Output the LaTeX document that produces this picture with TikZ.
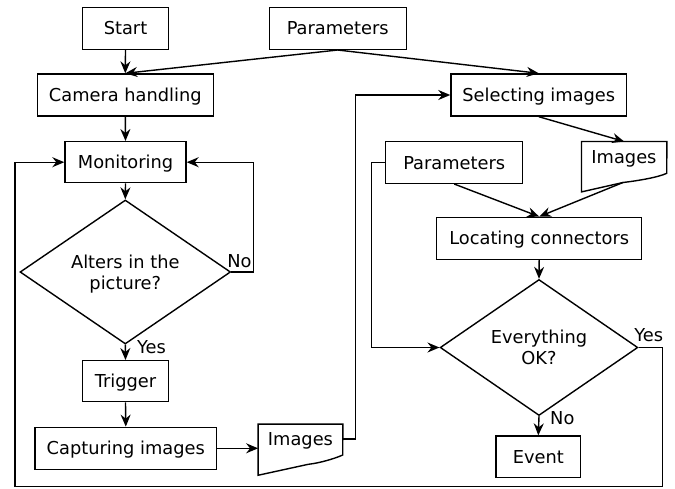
\documentclass[tikz,border=0pt]{standalone}
\usepackage{fontspec}
\setmainfont{DejaVu Sans}
\usetikzlibrary{arrows.meta,shapes.geometric,calc}
\begin{document}
\begin{tikzpicture}[x=1pt,y=-1pt,
  every node/.style={font=\fontsize{17.8}{21.3}\selectfont, inner sep=0pt},
  box/.style={draw, line width=1.4pt, text height=13pt, text depth=0pt},
  dec/.style={draw, diamond, line width=1.4pt, align=center, text depth=0pt},
  con/.style={line width=1.4pt, -{Stealth[length=12pt,width=10pt,inset=4pt]}},
  ln/.style={line width=1.4pt},
  lbl/.style={anchor=base west}
]
\useasboundingbox (0,0) rectangle (675,488);

% boxes
\node[box, minimum width=85.6pt, minimum height=42pt] (start) at (125.5,28.3) {Start};
\node[box, minimum width=137pt, minimum height=42pt] (par1) at (337.7,28.3) {Parameters};
\node[box, minimum width=176pt, minimum height=42pt] (cam) at (125.3,95) {Camera handling};
\node[box, minimum width=121pt, minimum height=41pt] (mon) at (125.5,162.2) {Monitoring};
\node[dec, minimum width=210.6pt, minimum height=144pt] (d1) at (125.3,272) {Alters in the\\picture?};
\node[box, minimum width=85.6pt, minimum height=41pt] (trig) at (125.5,381.2) {Trigger};
\node[box, minimum width=181.7pt, minimum height=42pt] (cap) at (125.8,448.3) {Capturing images};
\node[box, minimum width=175.7pt, minimum height=42pt] (sel) at (538.8,95) {Selecting images};
\node[box, minimum width=137pt, minimum height=41.6pt] (par2) at (454.2,162.5) {Parameters};
\node[box, minimum width=205pt, minimum height=42pt] (loc) at (539.2,238.3) {Locating connectors};
\node[dec, minimum width=197.7pt, minimum height=136pt] (d2) at (539,347.5) {Everything\\OK?};
\node[box, minimum width=84.7pt, minimum height=41.3pt] (ev) at (538.3,456.7) {Event};

% documents
\node[minimum width=84.4pt, minimum height=50.7pt] (img1) at (300.5,449.7) {};
\node[anchor=base] (img1t) at (300.5,445.7) {Images};
\draw[ln] (img1.north west) -- (img1.north east) -- (342.7,455)
  .. controls (335,458.5) and (320,463) .. (308.3,464.3) -- (img1.south west) -- cycle;

\node[minimum width=85pt, minimum height=50pt] (img2) at (624.2,166.7) {};
\node[anchor=base] (img2t) at (624,163.3) {Images};
\draw[ln] (img2.north west) -- (img2.north east) -- (666.7,173.3)
  .. controls (659,177) and (640,180.5) .. (623,182.5) -- (img2.south west) -- cycle;
\coordinate (w2) at (623,182.5);
\coordinate (loopc) at (15,486.3);

% connectors
\draw[con] (start.south) -- (cam.north);
\draw[con] (par1.south) -- (cam.north);
\draw[con] (par1.south) -- (sel.north);
\draw[con] (cam.south) -- (mon.north);
\draw[con] (mon.south) -- (d1.north);
\draw[con] (d1.east) -- ++(22.3,0) |- (mon.east);
\draw[con] (d1.south) -- (trig.north);
\draw[con] (trig.south) -- (cap.north);
\draw[con] (cap.east) -- (cap.east -| img1.west);
\draw[con] ($(img1.north east)+(0,14.7)$) -- ++(12.6,0) |- (sel.west);
\draw[con] (sel.south) -- (img2.north);
\draw[con] (par2.south) -- (loc.north);
\draw[con] (w2) -- (loc.north);
\draw[con] (par2.west) -- ++(-13.7,0) |- (d2.west);
\draw[con] (loc.south) -- (d2.north);
\draw[con] (d2.south) -- (ev.north);
\draw[con] (d2.east) -- ++(23.85,0) |- (loopc) |- (mon.west);

% labels
\node[lbl] (no1) at ($(d1.east)+(-4.2,-4.7)$) {No};
\node[lbl] (yes1) at ($(d1.south)+(11.7,8.7)$) {Yes};
\node[lbl] (yes2) at ($(d2.east)+(-4.4,-5.8)$) {Yes};
\node[lbl] (no2) at ($(d2.south)+(11,7.8)$) {No};
\end{tikzpicture}
\end{document}
